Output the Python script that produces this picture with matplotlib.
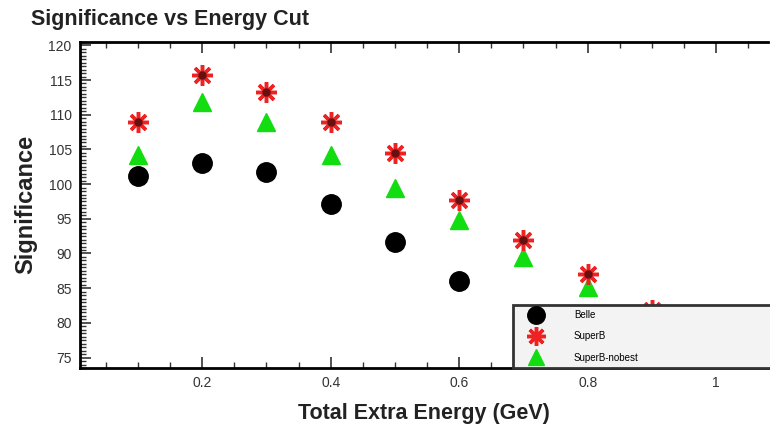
import matplotlib.pyplot as plt
from matplotlib.ticker import MultipleLocator

# values
energy_cut = [0.1, 0.2, 0.3, 0.4, 0.5, 0.6, 0.7, 0.8, 0.9]
belle = [101.2, 103.1, 101.8, 97.1, 91.6, 86.1, 80.0, 76.0, 73.0]
superb = [108.9, 115.7, 113.3, 108.9, 104.5, 97.7, 91.9, 87.1, 81.8]
superb_nobest = [104.2, 111.8, 109.0, 104.2, 99.5, 94.8, 89.5, 85.1, 80.0]

plt.rcParams['font.family'] = ['Liberation Sans', 'DejaVu Sans']

fig = plt.figure(figsize=(7.7, 4.36), dpi=100)
ax = fig.add_axes([0.104, 0.156, 0.893, 0.748])

ax.plot(energy_cut, belle, 'o', color='black', markersize=14, label='Belle', zorder=3)
ax.plot(energy_cut, superb, linestyle='none', marker=(8, 2, 0), color='#ee2222',
        markersize=15, markeredgewidth=2.5, label='SuperB', zorder=4)
ax.plot(energy_cut, superb, 'o', color='#661111', markersize=5, zorder=5)
ax.plot(energy_cut, superb_nobest, '^', color='#11dd11', markersize=13,
        label='SuperB-nobest', zorder=3)

ax.set_xlim(0.01, 1.08)
ax.set_ylim(73.5, 120.5)
ax.xaxis.set_major_locator(MultipleLocator(0.2))
ax.xaxis.set_minor_locator(MultipleLocator(0.05))
ax.yaxis.set_major_locator(MultipleLocator(5))
ax.yaxis.set_minor_locator(MultipleLocator(0.5))
ax.set_xticks([0.2, 0.4, 0.6, 0.8, 1.0])
ax.set_xticklabels(['0.2', '0.4', '0.6', '0.8', '1'])
ax.tick_params(which='both', direction='in', top=True, right=False,
               labelsize=10, colors='#333333', pad=6)
ax.tick_params(which='major', length=8, width=1.2)
ax.tick_params(which='minor', length=4, width=1)
for side in ['left', 'bottom', 'top']:
    ax.spines[side].set_linewidth(2)
ax.spines['right'].set_visible(False)

ax.set_xlabel('Total Extra Energy (GeV)', fontsize=15.5, fontweight='bold',
              color='#222222', labelpad=9)
ax.set_ylabel('Significance', fontsize=17, fontweight='bold', color='#222222',
              labelpad=8)
fig.text(0.04, 0.955, 'Significance vs Energy Cut', fontsize=15.5,
         fontweight='bold', color='#222222', va='center')

leg = ax.legend(loc='lower left', bbox_to_anchor=(0.63, 0.0, 0.45, 0.2),
                mode='expand', fontsize=7, frameon=True, fancybox=False,
                borderaxespad=0, labelspacing=1.15, handletextpad=2.2,
                borderpad=0.55, handlelength=3.5, markerscale=0.9)
leg.get_frame().set_facecolor('#f3f3f3')
leg.get_frame().set_edgecolor('#333333')
leg.get_frame().set_linewidth(2)
leg.get_frame().set_alpha(1)
leg.set_zorder(10)

fig.savefig('out.png', dpi=100)
